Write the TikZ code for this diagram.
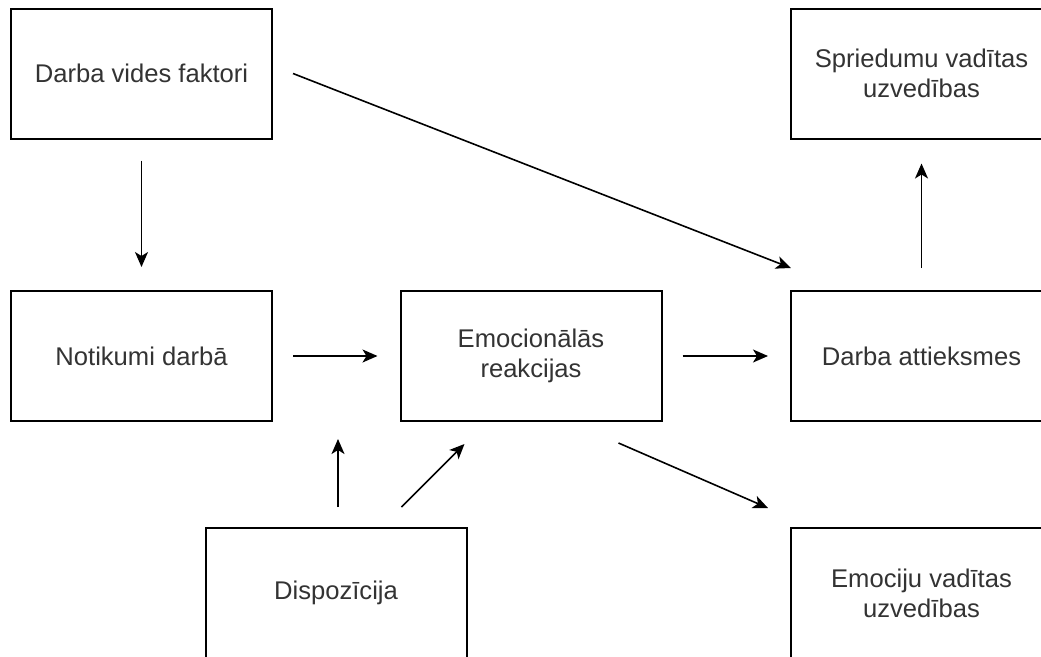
\documentclass[tikz,border=0pt]{standalone}
\usepackage{fontspec}
\setmainfont{Liberation Sans}
\usetikzlibrary{arrows.meta}
\begin{document}
\begin{tikzpicture}[x=1pt,y=-1pt,
    box/.style={draw, line width=2pt, outer sep=0pt, minimum width=261pt, minimum height=130pt, inner sep=0pt, align=center, text=black!80, font=\fontsize{25.6}{30}\selectfont},
    arr/.style={line width=1.6pt, -{Stealth[length=15pt,width=13pt,inset=4pt]}}]
    \fill[white] (0,0) rectangle (1041,656);
    \clip (0,0) rectangle (1041,656);
    \node[box] (dvf) at (141.5,73.5) {Darba vides faktori};
    \node[box] (svu) at (921.5,73.5) {Spriedumu vadītas\\uzvedības};
    \node[box] (nd) at (141.5,356) {Notikumi darbā};
    \node[box] (er) at (531,356) {Emocionālās\\reakcijas};
    \node[box] (da) at (921.5,356) {Darba attieksmes};
    \node[box] (disp) at (336,593) {Dispozīcija};
    \node[box] (emu) at (921.5,593) {Emociju vadītas\\uzvedības};
    \draw[arr] ([yshift=-22pt]dvf.south) -- ([yshift=24pt]nd.north);
    \draw[arr] ([xshift=21pt]dvf.east) -- ([yshift=23pt]da.north west);
    \draw[arr] ([yshift=23pt]da.north) -- ([yshift=-25pt]svu.south);
    \draw[arr] ([xshift=21pt]nd.east) -- ([xshift=-23pt]er.west);
    \draw[arr] ([xshift=21pt]er.east) -- ([xshift=-23pt]da.west);
    \draw[arr] ([xshift=2pt,yshift=21pt]disp.north) -- ([xshift=-62.5pt,yshift=-18pt]er.south west);
    \draw[arr] ([xshift=-65pt,yshift=21pt]disp.north east) -- ([xshift=64pt,yshift=-23pt]er.south west);
    \draw[arr] ([xshift=-43pt,yshift=-22pt]er.south east) -- ([xshift=-23pt,yshift=20pt]emu.north west);
\end{tikzpicture}
\end{document}
